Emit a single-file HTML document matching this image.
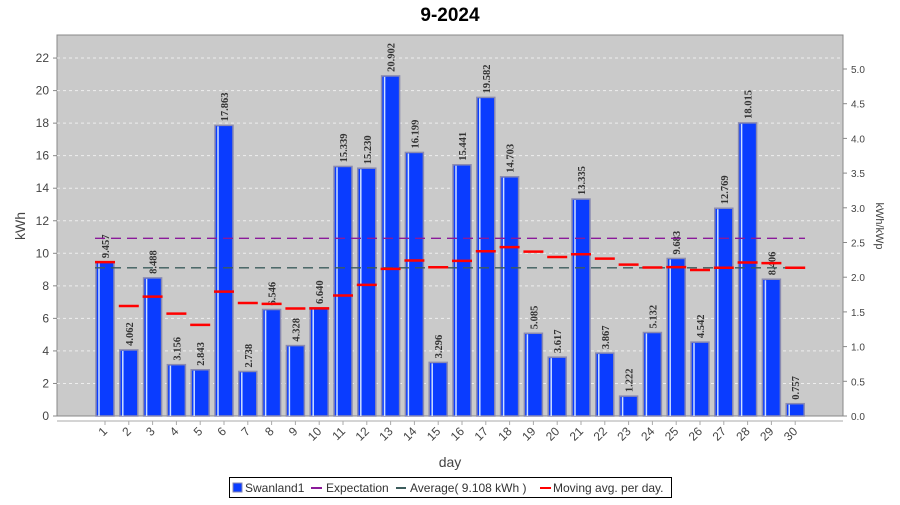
<!DOCTYPE html>
<html><head><style>
body{margin:0;background:#fff;width:900px;height:500px;overflow:hidden}
</style></head><body>
<svg id="s" width="900" height="500" xmlns="http://www.w3.org/2000/svg" font-family="Liberation Sans, sans-serif"></svg>
<script>
const v=[9.457,4.062,8.488,3.156,2.843,17.863,2.738,6.546,4.328,6.640,15.339,15.230,20.902,16.199,3.296,15.441,19.582,14.703,5.085,3.617,13.335,3.867,1.222,5.132,9.683,4.542,12.769,18.015,8.406,0.757];
const L=57,R=843,T=35,B=416,k=16.27;
const Y=d=>B-d*k;
let s='';
s+=`<text x="450" y="21" text-anchor="middle" font-size="19" font-weight="bold">9-2024</text>`;
s+=`<rect x="${L}" y="${T}" width="${R-L}" height="${B-T}" fill="#cacaca" stroke="#888"/>`;
for(let g=2;g<=22;g+=2){s+=`<line x1="${L}" x2="${R}" y1="${Y(g)}" y2="${Y(g)}" stroke="#eee" stroke-dasharray="3,3"/>`;}
for(let g=0;g<=22;g+=2){s+=`<text x="${L-8}" y="${Y(g)+4}" text-anchor="end" font-size="12" fill="#444">${g}</text><line x1="${L-4}" x2="${L}" y1="${Y(g)}" y2="${Y(g)}" stroke="#888"/>`;}
for(let g=0;g<=10;g++){const y=B-g*34.7;s+=`<text x="${R+8}" y="${y+4}" font-size="10" fill="#444">${(g/2).toFixed(1)}</text><line x1="${R}" x2="${R+4}" y1="${y}" y2="${y}" stroke="#888"/>`;}
s+=`<text x="25" y="226" transform="rotate(-90 25 226)" text-anchor="middle" font-size="14" fill="#444">kWh</text>`;
s+=`<text x="876" y="226" transform="rotate(90 876 226)" text-anchor="middle" font-size="11" fill="#444">kWh/kWp</text>`;
s+=`<line x1="${L}" x2="${R}" y1="${B+5}" y2="${B+5}" stroke="#aaa"/>`;
let sum=0;
v.forEach((d,i)=>{const cx=105+i*23.8,x=cx-9;
s+=`<rect x="${x}" y="${Y(d)}" width="18" height="${d*k}" fill="#0a3cff" stroke="#8a8ab0" stroke-width="1.5"/><line x1="${x+3}" x2="${x+3}" y1="${Y(d)+1}" y2="${B}" stroke="#cfe0ff" stroke-width="1.5"/>`;
const ly=Y(d)-4;
s+=`<text x="${cx+4}" y="${ly}" transform="rotate(-90 ${cx+4} ${ly})" font-family="Liberation Serif, serif" font-weight="bold" font-size="10.5" fill="#333">${d.toFixed(3)}</text>`;
s+=`<line x1="${cx}" x2="${cx}" y1="${B+5}" y2="${B+9}" stroke="#aaa"/><text x="${cx+3}" y="${B+16}" transform="rotate(-45 ${cx+3} ${B+16})" text-anchor="end" font-size="12" fill="#444">${i+1}</text>`;
});
s+=`<line x1="95" x2="805" y1="${Y(10.92)}" y2="${Y(10.92)}" stroke="#8b1a9a" stroke-width="1.3" stroke-dasharray="10,6"/>`;
s+=`<line x1="95" x2="805" y1="${Y(9.108)}" y2="${Y(9.108)}" stroke="#3c5c5c" stroke-width="1.3" stroke-dasharray="10,6"/>`;
v.forEach((d,i)=>{sum+=d;const m=sum/(i+1),cx=105+i*23.8;s+=`<line x1="${cx-10}" x2="${cx+10}" y1="${Y(m)}" y2="${Y(m)}" stroke="#f00" stroke-width="2.5"/>`;});
s+=`<text x="450" y="467" text-anchor="middle" font-size="14" fill="#444">day</text>`;
s+=`<rect x="229.5" y="477.5" width="442" height="20" fill="#fff" stroke="#000"/>`;
s+=`<rect x="233" y="483" width="9" height="9" fill="#0a3cff" stroke="#8a8ab0"/><text x="245" y="492" font-size="12" fill="#333">Swanland1</text>`;
s+=`<line x1="311" x2="322" y1="488" y2="488" stroke="#8b1a9a" stroke-width="2"/><text x="326" y="492" font-size="12" fill="#333">Expectation</text>`;
s+=`<line x1="396" x2="406" y1="488" y2="488" stroke="#3c5c5c" stroke-width="2"/><text x="410" y="492" font-size="12" fill="#333">Average( 9.108 kWh )</text>`;
s+=`<line x1="540" x2="551" y1="488" y2="488" stroke="#f00" stroke-width="2"/><text x="553" y="492" font-size="12" fill="#333">Moving avg. per day.</text>`;
document.getElementById('s').innerHTML=s;
</script>
</body></html>
